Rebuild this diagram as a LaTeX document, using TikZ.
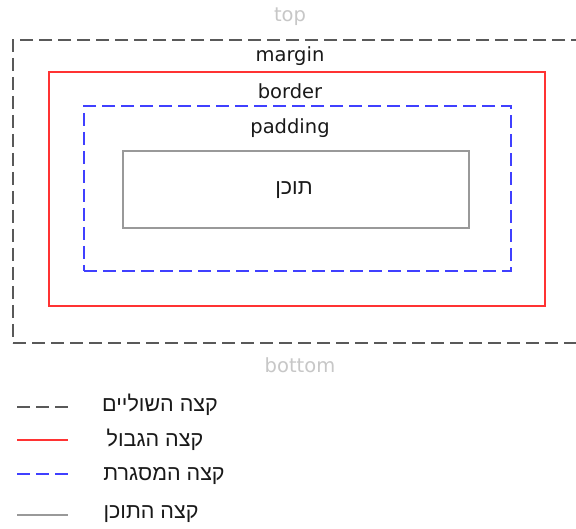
\documentclass[tikz,border=0pt]{standalone}
\usepackage{fontspec}
\setmainfont{DejaVu Sans}
\newfontfamily\hebfont[Script=Hebrew]{Liberation Sans}
\TeXXeTstate=1
\begin{document}
\begin{tikzpicture}[x=1pt,y=-1pt,
  lbl/.style={font=\fontsize{19.5}{21}\selectfont, text=black!90, inner sep=0pt},
  faint/.style={font=\fontsize{19.5}{21}\selectfont, text=black!22, inner sep=0pt},
  heb/.style={font=\hebfont\fontsize{21.5}{23}\selectfont, text=black!90, inner sep=0pt},
  boxm/.style={draw=black!65, line width=1.8pt, dash pattern=on 13pt off 6pt},
  boxb/.style={draw=red!80!white, line width=1.8pt},
  boxp/.style={draw=blue!75!white, line width=1.8pt, dash pattern=on 13pt off 6pt},
  boxc/.style={draw=black!40, line width=1.5pt}]
\useasboundingbox (0,0) rectangle (576,529);
\fill[white] (0,0) rectangle (576,529);
\begin{scope}
\clip (0,0) rectangle (576,529);
\node[boxm, minimum width=590pt, minimum height=303pt, inner sep=0pt] (margin) at (308,191.5) {};
\end{scope}
\node[boxb, minimum width=496pt, minimum height=234pt, inner sep=0pt] (border) at (297,189) {};
\node[boxp, minimum width=427pt, minimum height=165pt, inner sep=0pt] (padding) at (297.5,188.5) {};
\node[boxc, minimum width=346pt, minimum height=77pt, inner sep=0pt] (content) at (296,189.5) {};
\node[faint] (top) at (290,17) {top};
\node[faint] (bottom) at (300,365) {bottom};
\node[lbl] (tmargin) at (290,56) {margin};
\node[lbl] (tborder) at (290,91) {border};
\node[lbl] (tpadding) at (290,128) {padding};
\node[heb] (tcontent) at (294,190) {\beginR תוכן\endR};
\coordinate (l1a) at (17,407); \coordinate (l1b) at (68,407);
\coordinate (l2a) at (17,440); \coordinate (l2b) at (68,440);
\coordinate (l3a) at (17,474); \coordinate (l3b) at (68,474);
\coordinate (l4a) at (17,515); \coordinate (l4b) at (68,515);
\draw[draw=black!65, line width=1.5pt, dash pattern=on 13pt off 6pt] (l1a) -- (l1b);
\draw[draw=red!80!white, line width=1.5pt] (l2a) -- (l2b);
\draw[draw=blue!75!white, line width=1.5pt, dash pattern=on 13pt off 6pt] (l3a) -- (l3b);
\draw[draw=black!40, line width=1.5pt] (l4a) -- (l4b);
\node[heb] (t1) at (160,405) {\beginR קצה השוליים\endR};
\node[heb] (t2) at (155,440) {\beginR קצה הגבול\endR};
\node[heb] (t3) at (164,476) {\beginR קצה המסגרת\endR};
\node[heb] (t4) at (151,514) {\beginR קצה התוכן\endR};
\end{tikzpicture}
\end{document}
